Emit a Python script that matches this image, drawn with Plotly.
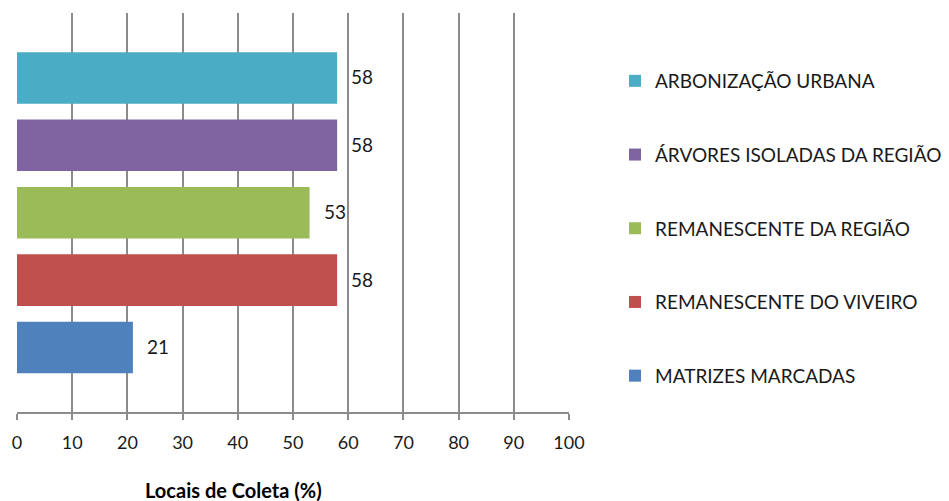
import plotly.graph_objects as go

# Collection sites and their share (%)
categories = [
    "MATRIZES MARCADAS",
    "REMANESCENTE DO VIVEIRO",
    "REMANESCENTE DA REGIÃO",
    "ÁRVORES ISOLADAS DA REGIÃO",
    "ARBONIZAÇÃO URBANA",
]
values = [21, 58, 53, 58, 58]
colors = ["#4F81BD", "#C0504D", "#9BBB59", "#8064A2", "#4BACC6"]
x_ticks = [0, 10, 20, 30, 40, 50, 60, 70, 80, 90, 100]
x_title = "Locais de Coleta (%)"

FONT = "Lato"
GRID = "#8C8C8C"
L, R = 12, 380
PW = 949 - L - R

fig = go.Figure()
# top bar first so the legend lists it first
for i in reversed(range(len(categories))):
    name, val, col = categories[i], values[i], colors[i]
    fig.add_trace(go.Bar(
        x=[val], y=[i], name=name, orientation="h",
        marker=dict(color=col, line=dict(width=0)),
        width=0.765, legendgroup=name,
        hoverinfo="x+name",
    ))
    fig.add_annotation(
        x=val, y=i, text=str(val), showarrow=False,
        xanchor="left", xshift=12, yshift=1,
        font=dict(family=FONT, size=19, color="#1a1a1a"),
    )

fig.add_annotation(
    xref="paper", yref="paper", x=(230 - L) / PW, y=0,
    xanchor="center", yanchor="middle", yshift=-78,
    text="<b>" + x_title + "</b>", showarrow=False,
    font=dict(family=FONT, size=20, color="#000000"),
)

fig.update_layout(
    width=949, height=501,
    margin=dict(l=L, r=R, t=13, b=89),
    paper_bgcolor="white", plot_bgcolor="white",
    barmode="overlay",
    showlegend=True,
    legend=dict(
        xref="container", yref="container",
        x=615 / 949, y=1 - 62 / 501, xanchor="left", yanchor="top",
        traceorder="grouped", tracegroupgap=46, maxheight=1,
        font=dict(family=FONT, size=19, color="#1a1a1a"),
        itemsizing="constant", bgcolor="rgba(0,0,0,0)",
    ),
    xaxis=dict(
        range=[0, 100], tickvals=x_ticks, ticktext=[str(t) for t in x_ticks],
        showgrid=True, gridcolor=GRID, gridwidth=1.5,
        showline=True, linecolor=GRID, linewidth=1.5,
        ticks="outside", ticklen=6, tickcolor=GRID, tickwidth=1.5,
        ticklabelstandoff=8,
        tickfont=dict(family=FONT, size=18, color="#1a1a1a"),
        zeroline=False, fixedrange=True,
    ),
    yaxis=dict(
        range=[-0.957, 4.964], showticklabels=False, showgrid=False,
        zeroline=False, showline=False, ticks="", fixedrange=True,
    ),
)

fig.write_html("out.html")
